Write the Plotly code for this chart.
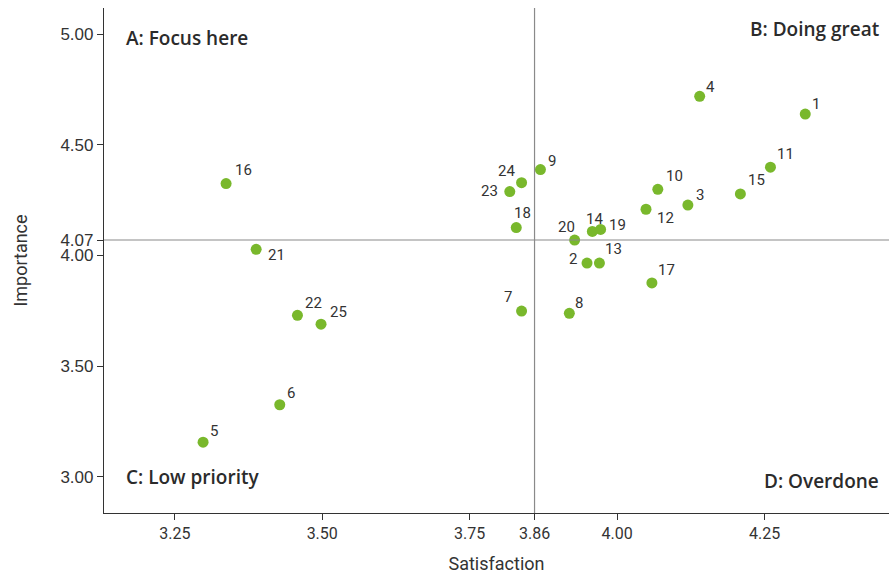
import plotly.graph_objects as go

ids = [str(i) for i in range(1, 26)]
satisfaction = [4.319, 3.949, 4.120, 4.140, 3.298, 3.428, 3.838, 3.919, 3.870, 4.069,
                4.260, 4.049, 3.970, 3.958, 4.209, 3.337, 4.059, 3.829, 3.972, 3.928,
                3.388, 3.458, 3.818, 3.838, 3.498]
importance = [4.639, 3.966, 4.228, 4.719, 3.157, 3.326, 3.749, 3.739, 4.388, 4.299,
              4.399, 4.209, 3.966, 4.109, 4.278, 4.325, 3.876, 4.126, 4.118, 4.070,
              4.028, 3.730, 4.289, 4.329, 3.690]
mean_sat = 3.86
mean_imp = 4.07
x_ticks = [3.25, 3.50, 3.75, 3.86, 4.00, 4.25]
y_ticks = [3.00, 3.50, 4.00, 4.07, 4.50, 5.00]
quadrants = ["A: Focus here", "B: Doing great", "C: Low priority", "D: Overdone"]

# label offsets in pixels (style only): (dx, dy) with dy positive = up
label_off = [(11, 10), (-14, 4), (12, 10), (11, 9), (11, 11),
             (11, 12), (-14, 14), (10, 10), (12, 9), (17, 13),
             (15, 13), (19, -9), (14, 14), (2, 12), (16, 14),
             (17, 14), (15, 13), (6, 15), (17, 4), (-8, 13),
             (20, -6), (16, 12), (-20, 1), (-15, 12), (17, 12)]

fig = go.Figure()
fig.add_trace(go.Scatter(
    x=satisfaction, y=importance, mode="markers",
    marker=dict(size=11, color="#79b82c"),
    showlegend=False, hoverinfo="skip",
))
lfont = dict(family="Roboto, Inter, sans-serif", size=15, color="#333333")
for xi, yi, t, (dx, dy) in zip(satisfaction, importance, ids, label_off):
    fig.add_annotation(x=xi, y=yi, text=t, showarrow=False, xanchor="center",
                       yanchor="middle", xshift=dx, yshift=dy, font=lfont)

fig.add_vline(x=mean_sat, line=dict(color="#8a8a8a", width=1.2))
fig.add_hline(y=mean_imp, line=dict(color="#8a8a8a", width=1.2))

qfont = dict(family="Open Sans, sans-serif", size=19, color="#2b2b2b", weight=600)
fig.add_annotation(text=quadrants[0], xref="paper", yref="paper", x=0.026, y=0.941,
                   xanchor="left", yanchor="middle", showarrow=False, font=qfont)
fig.add_annotation(text=quadrants[1], xref="paper", yref="paper", x=0.9895, y=0.958,
                   xanchor="right", yanchor="middle", showarrow=False, font=qfont)
fig.add_annotation(text=quadrants[2], xref="paper", yref="paper", x=0.026, y=0.0713,
                   xanchor="left", yanchor="middle", showarrow=False, font=qfont)
fig.add_annotation(text=quadrants[3], xref="paper", yref="paper", x=0.9895, y=0.063,
                   xanchor="right", yanchor="middle", showarrow=False, font=qfont)

fig.update_layout(
    width=891, height=575,
    margin=dict(l=104, r=2, t=8, b=62, autoexpand=False),
    plot_bgcolor="white", paper_bgcolor="white",
    xaxis=dict(range=[3.130, 4.461], tickvals=x_ticks,
               ticktext=[f"{v:.2f}" for v in x_ticks],
               showgrid=False, zeroline=False, showline=True, linecolor="#333333",
               linewidth=1.2, ticks="outside", ticklen=6, tickcolor="#333333",
               tickfont=dict(family="Roboto, sans-serif", size=16, color="#333333"),
               title=dict(text="Satisfaction", standoff=15,
                          font=dict(family="Roboto, sans-serif", size=18, color="#333333"))),
    yaxis=dict(range=[2.837, 5.118], tickvals=y_ticks,
               ticktext=[f"{v:.2f}" for v in y_ticks],
               showgrid=False, zeroline=False, showline=True, linecolor="#333333",
               linewidth=1.2, ticks="outside", ticklen=6, tickcolor="#333333",
               tickfont=dict(family="Liberation Sans, Arial, sans-serif", size=17, color="#333333"),
               title=dict(text="Importance", standoff=28,
                          font=dict(family="Roboto, sans-serif", size=18, color="#333333"))),
)
fig.write_html("out.html", config={"displayModeBar": False},
               post_script="document.body.style.margin='0';")
